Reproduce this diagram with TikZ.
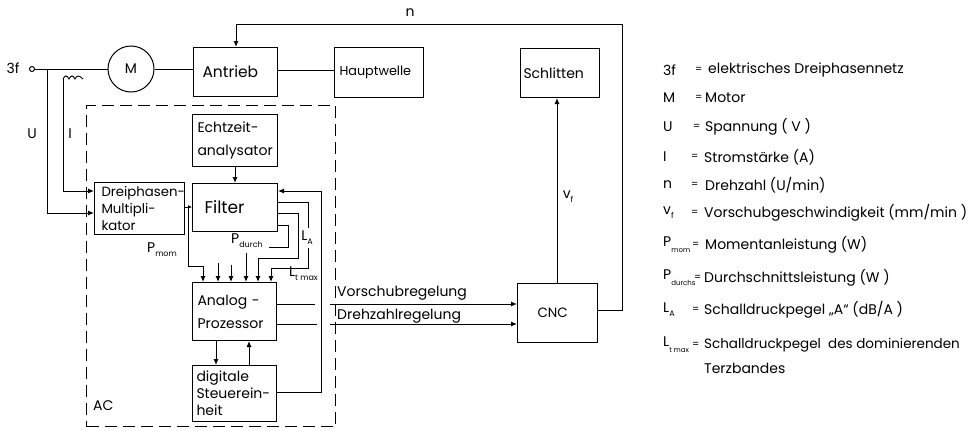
\documentclass[tikz,border=0pt]{standalone}
\usepackage{fontspec}
\setmainfont{Poppins}
\usetikzlibrary{arrows.meta}
\newcommand{\subt}[1]{\raisebox{-4pt}{\fontsize{8}{8}\selectfont #1}}
\newcommand{\subl}[1]{\raisebox{-6pt}{\fontsize{7}{7}\selectfont #1}}
\newcommand{\fs}[1]{\fontsize{#1}{17}\selectfont}
\newcommand{\legrow}[6]{%
  \node[legtext] (#1s) at (663,#2) {#3};
  \node[legtext,font=\fontsize{10}{12}\selectfont] (#1e) at (#4,#2) {=};
  \node[legtext] (#1t) at (#5,#2) {#6};}
\tikzset{
  ln/.style={line width=1pt,line join=miter},
  arr/.style={ln,-{Latex[length=6pt,width=5pt]}},
  txt/.style={font=\fontsize{14}{17}\selectfont,inner sep=0pt},
  legtext/.style={font=\fontsize{14}{17}\selectfont,inner sep=0pt,anchor=west},
  box/.code n args={3}{\pgfmathsetlengthmacro{\boxtw}{#1pt-2*#3pt}%
    \tikzset{draw,ln,txt,anchor=north west,align=left,inner ysep=0pt,
    inner xsep=#3pt,minimum width=#1pt,minimum height=#2pt,text width=\boxtw}},
}
\begin{document}
\begin{tikzpicture}[x=1pt,y=-1pt]
\useasboundingbox (0,0) rectangle (978,431);
% boxes
\node[draw,ln,circle,minimum size=46pt,inner sep=0pt,txt] (motor) at (131,69) {M};
\node[box={84}{49}{9}] (antrieb) at (193,47) {\fs{15.5}Antrieb};
\node[box={89}{50}{5}] (haupt) at (334,47) {\fs{12.8}Hauptwelle};
\node[box={79}{49}{3}] (schlitten) at (520,48) {Schlitten};
\node[box={80}{59}{20}] (cnc) at (517,283) {\fs{13.5}CNC};
\node[box={85}{52}{5}] (echt) at (192,114) {\mbox{Echtzeit-}\\[6pt]analysator};
\node[box={85}{48}{12}] (filter) at (192,183) {\fs{17}Filter};
\node[box={90}{52}{7}] (dreiph) at (94,182) {\fs{13.3}\mbox{Dreiphasen-}\\\mbox{Multipli-}\\kator};
\node[box={84}{58}{5}] (analog) at (192,282) {Analog -\\[6pt]Prozessor};
\node[box={84}{56}{4}] (digital) at (192,365) {digitale\\\mbox{Steuerein-}\\heit};
% AC frame
\node[draw,ln,dash pattern=on 12pt off 6pt,anchor=north west,minimum width=249pt,minimum height=321pt,inner sep=0pt] (ac) at (86,105) {};
% helper points
\node[draw,ln,circle,minimum size=5pt,inner sep=0pt] (term) at (32,69) {};
\coordinate (ujunc) at (47,69);
\coordinate (coilA) at (63,79);
\coordinate (coilB) at (83,79);
\coordinate (mjunc) at (188,207);
\coordinate (ltop) at (321,191);
% mains
\draw[ln] (term) -- (motor);
\draw[ln] (motor.east) -- (antrieb.west |- motor.east);
\draw[ln] (antrieb.east |- 0,70) -- (haupt.west |- 0,70);
\draw[arr] (ujunc) |- (dreiph.west |- 0,213);
\draw[arr] (coilA) |- (dreiph.west |- 0,191);
\draw[line width=0.9pt] (coilA) .. controls (65,75) and (67,75) .. (69,79) .. controls (71,75) and (73,75) .. (75,79) .. controls (77,75) and (79,75) .. (coilB);
% multiplier to filter and analog
\draw[ln,-{Latex[length=4pt,width=4pt]}] (dreiph.east |- 0,207) -- (filter.west |- 0,207);
\draw[ln] (mjunc) -- (188,266) -- (203,266);
\draw[arr] (203,266) -- (analog.north -| 203,0);
\draw[arr] (echt) -- (filter);
% filter outputs
\draw[arr] (218,263) -- (analog.north -| 218,0);
\draw[arr] (231,265) -- (analog.north -| 231,0);
\draw[arr] (246,253) -- (analog.north -| 246,0);
\draw[ln] (filter.east |- 0,225) -- (288,225) -- (288,247) -- (269,247);
\draw[arr] (filter.east |- 0,213) -- (298,213) -- (298,258) -- (258,258) -- (analog.north -| 258,0);
\draw[ln] (filter.east |- 0,202) -- (308,202) -- (308,228);
\draw[arr] (308,248) -- (308,268) -- (271,268) -- (analog.north -| 271,0);
% feedback from digital unit
\draw[arr] (digital.east |- 0,392) -- (321,392) -- (ltop) -- (filter.east |- ltop);
% analog links
\draw[arr] (analog.south -| 216,0) -- (digital.north -| 216,0);
\draw[arr] (digital.north -| 249,0) -- (analog.south -| 249,0);
% control lines
\coordinate (vgA) at (315,304);
\coordinate (vgB) at (330,304);
\coordinate (dgA) at (317,324);
\coordinate (dgB) at (330,324);
\draw[ln] (analog.east |- vgA) -- (vgA);
\draw[arr] (vgB) -- (cnc.west |- vgB);
\draw[ln] (analog.east |- dgA) -- (dgA);
\draw[arr] (dgB) -- (cnc.west |- dgB);
% CNC outputs
\draw[arr] (cnc.north -| 557,0) -- (schlitten.south -| 557,0);
\draw[arr] (cnc.east |- 0,310) -- (622,310) -- (622,24) -- (236,24) -- (antrieb.north -| 236,0);
% labels
\node[txt] (l3f) at (13,68) {3f};
\node[txt] (lU) at (32,134) {U};
\node[txt] (lI) at (70,134) {I};
\node[txt] (ln) at (410,13) {n};
\node[txt] (lvf) at (568,197) {v\subt{f}};
\node[txt,anchor=west] (lac) at (93,406) {AC};
\node[txt] (lpm) at (162,250) {P\subt{mom}};
\node[txt] (lpd) at (247,241) {P\subt{durch}};
\node[txt] (lla) at (307,238) {L\subt{A}};
\node[txt,anchor=west] (llt) at (289,274) {L\subt{t max}};
\node[txt,anchor=west] (lvor) at (337,293) {Vorschubregelung};
\node[txt,anchor=west] (ldre) at (337,316) {Drehzahlregelung};
% legend
\legrow{a}{70}{3f}{695}{708}{elektrisches Dreiphasennetz}
\legrow{b}{98}{M}{695}{705}{Motor}
\legrow{c}{127}{U}{693}{705}{Spannung ( V )}
\legrow{d}{157}{I}{691}{704}{Stromstärke (A)}
\legrow{e}{185}{n}{691}{705}{Drehzahl (U/min)}
\legrow{f}{213}{v\subt{f}}{691}{704}{Vorschubgeschwindigkeit (mm/min )}
\legrow{g}{245}{P\subl{mom}}{692}{705}{Momentanleistung (W)}
\legrow{h}{278}{P\subl{durchs}}{694}{704}{Durchschnittsleistung (W )}
\legrow{i}{310}{L\subt{A}}{692}{704}{Schalldruckpegel „A“ (dB/A )}
\legrow{j}{345}{L\subl{t max}}{692}{704}{\fontsize{13.5}{17}\selectfont Schalldruckpegel\ \ des dominierenden}
\node[legtext] (jt2) at (704,368) {Terzbandes};
\end{tikzpicture}
\end{document}
